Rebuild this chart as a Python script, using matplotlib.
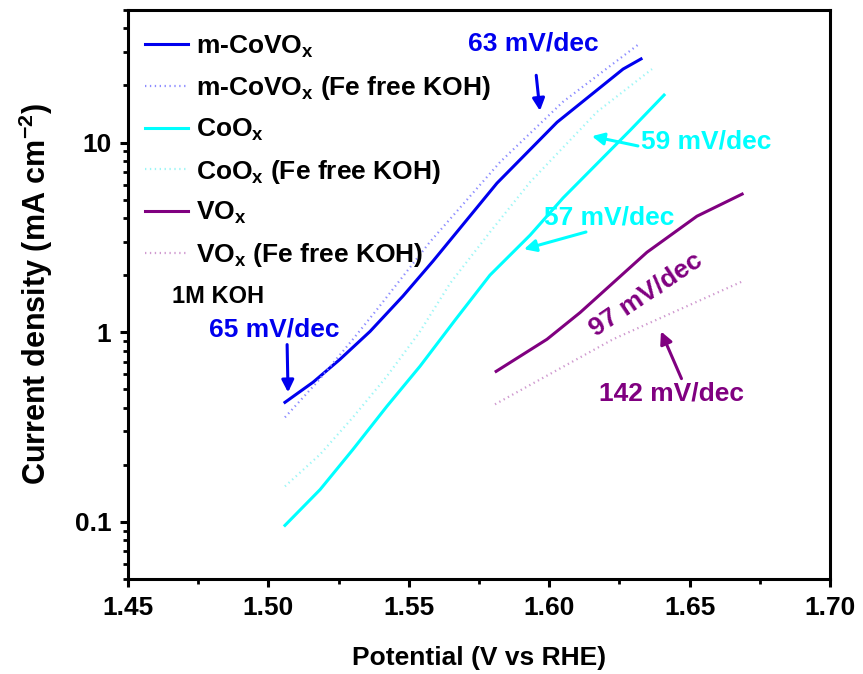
import matplotlib
matplotlib.use("Agg")
import matplotlib.pyplot as plt
from matplotlib.ticker import FixedLocator, NullFormatter, LogLocator, FuncFormatter

plt.rcParams['font.family'] = ['Liberation Sans', 'DejaVu Sans']
plt.rcParams['font.weight'] = 'bold'
plt.rcParams['mathtext.fontset'] = 'custom'
plt.rcParams['mathtext.rm'] = 'Liberation Sans:bold'
plt.rcParams['mathtext.bf'] = 'Liberation Sans:bold'
plt.rcParams['mathtext.it'] = 'Liberation Sans:bold'

# ---- data ----
V_covox = [1.5059, 1.5159, 1.5255, 1.5362, 1.5479, 1.5586, 1.5814, 1.6028, 1.6263, 1.6327]
j_covox = [0.427, 0.545, 0.72, 1.01, 1.55, 2.37, 6.11, 12.8, 24.4, 27.6]

V_covox_fe = [1.5059, 1.5173, 1.5301, 1.5387, 1.5575, 1.5825, 1.6049, 1.6320]
j_covox_fe = [0.356, 0.545, 0.918, 1.32, 2.99, 7.89, 16.4, 33.1]

V_coox = [1.5059, 1.5184, 1.5301, 1.5422, 1.5540, 1.5665, 1.5789, 1.5932, 1.6049, 1.6288, 1.6409]
j_coox = [0.0959, 0.148, 0.241, 0.407, 0.662, 1.16, 2.0, 3.25, 5.1, 11.6, 17.8]

V_coox_fe = [1.5059, 1.5184, 1.5301, 1.5422, 1.5540, 1.5647, 1.5789, 1.5932, 1.6170, 1.6366]
j_coox_fe = [0.154, 0.227, 0.356, 0.586, 1.01, 1.81, 3.37, 6.19, 14.5, 24.4]

V_vox = [1.5811, 1.5992, 1.6110, 1.6348, 1.6526, 1.6687]
j_vox = [0.622, 0.918, 1.27, 2.64, 4.09, 5.35]

V_vox_fe = [1.5807, 1.6227, 1.6690]
j_vox_fe = [0.417, 0.918, 1.86]

x_ticks = [1.45, 1.50, 1.55, 1.60, 1.65, 1.70]
y_ticks = [0.1, 1, 10]

labels = [r'm-CoVO$_\mathbf{x}$', r'm-CoVO$_\mathbf{x}$ (Fe free KOH)',
          r'CoO$_\mathbf{x}$', r'CoO$_\mathbf{x}$ (Fe free KOH)',
          r'VO$_\mathbf{x}$', r'VO$_\mathbf{x}$ (Fe free KOH)']

BLUE = '#0000ee'
CYAN = '#00ffff'
PURPLE = '#800080'

fig = plt.figure(figsize=(8.63, 6.74), dpi=100)
ax = fig.add_axes([0.1483, 0.1409, 0.8135, 0.8443])

dot = (0, (0.6, 1.6))
ax.plot(V_covox, j_covox, color=BLUE, lw=2.2, label=labels[0])
ax.plot(V_covox_fe, j_covox_fe, color='#8c8cff', lw=1.6, ls=dot, label=labels[1])
ax.plot(V_coox, j_coox, color=CYAN, lw=2.2, label=labels[2])
ax.plot(V_coox_fe, j_coox_fe, color='#9cf6f6', lw=1.6, ls=dot, label=labels[3])
ax.plot(V_vox, j_vox, color=PURPLE, lw=2.2, label=labels[4])
ax.plot(V_vox_fe, j_vox_fe, color='#d09ad0', lw=1.6, ls=dot, label=labels[5])

ax.set_yscale('log')
ax.set_xlim(1.45, 1.70)
ax.set_ylim(0.05, 50)

ax.xaxis.set_major_locator(FixedLocator(x_ticks))
ax.xaxis.set_major_formatter(FuncFormatter(lambda v, p: f'{v:.2f}'))
ax.xaxis.set_minor_locator(FixedLocator([1.475, 1.525, 1.575, 1.625, 1.675]))
ax.yaxis.set_major_locator(FixedLocator(y_ticks))
ax.yaxis.set_major_formatter(FuncFormatter(lambda v, p: f'{v:g}'))
ax.yaxis.set_minor_locator(LogLocator(base=10, subs=[2, 3, 4, 5, 6, 7, 8, 9]))
ax.yaxis.set_minor_formatter(NullFormatter())

for s in ax.spines.values():
    s.set_linewidth(2.2)
ax.tick_params(which='major', direction='out', length=6, width=2.2, labelsize=19, pad=6,
               top=False, right=False)
ax.tick_params(which='minor', direction='out', length=3.5, width=2.0, top=False, right=False)

ax.set_xlabel('Potential (V vs RHE)', fontsize=19, fontweight='bold', labelpad=19)
ax.set_ylabel(r'Current density (mA cm$^{\mathbf{-2}}$)', fontsize=22, fontweight='bold', labelpad=14)

leg = ax.legend(loc='upper left', bbox_to_anchor=(-0.009, 1.0), frameon=False, fontsize=19,
                handlelength=1.6, handletextpad=0.3, labelspacing=0.55,
                borderaxespad=0.3, borderpad=0.6)

ann = dict(fontsize=19, fontweight='bold', ha='center', va='center')
ax.annotate('63 mV/dec', xy=(1.5967, 14.7), xytext=(1.5942, 33.1), color=BLUE,
            arrowprops=dict(arrowstyle='-|>', color=BLUE, lw=2.2, mutation_scale=18,
                            shrinkA=12, shrinkB=0), **ann)
ax.annotate('59 mV/dec', xy=(1.6152, 10.8), xytext=(1.6558, 10.1), color=CYAN,
            arrowprops=dict(arrowstyle='-|>', color=CYAN, lw=2.2, mutation_scale=18,
                            shrinkA=0, shrinkB=0, relpos=(0, 0.3)), **ann)
ax.annotate('57 mV/dec', xy=(1.591, 2.74), xytext=(1.6213, 4.04), color=CYAN,
            arrowprops=dict(arrowstyle='-|>', color=CYAN, lw=2.2, mutation_scale=18,
                            shrinkA=0, shrinkB=0, relpos=(0.4, 0)), **ann)
ax.annotate('142 mV/dec', xy=(1.6398, 1.01), xytext=(1.6434, 0.476), color=PURPLE,
            arrowprops=dict(arrowstyle='-|>', color=PURPLE, lw=2.2, mutation_scale=18,
                            shrinkA=0, shrinkB=0, relpos=(0.58, 1.0)), **ann)
ax.annotate('65 mV/dec', xy=(1.507, 0.482), xytext=(1.502, 1.03), color=BLUE,
            arrowprops=dict(arrowstyle='-|>', color=BLUE, lw=2.2, mutation_scale=18,
                            shrinkA=0, shrinkB=0, relpos=(0.6, 0)), **ann)
ax.text(1.6345, 1.58, '97 mV/dec', color=PURPLE, rotation=34, rotation_mode='anchor', **ann)
ax.text(1.482, 1.55, '1M KOH', color='black', fontsize=17, fontweight='bold', ha='center', va='center')

fig.savefig('out.png', dpi=100)
